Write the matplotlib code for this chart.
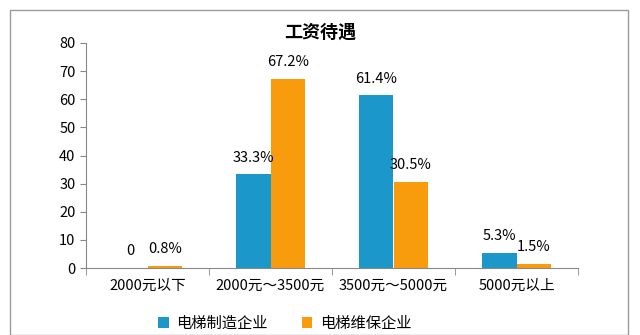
import matplotlib
matplotlib.use("Agg")
import matplotlib.pyplot as plt
from matplotlib.patches import Rectangle
import numpy as np

plt.rcParams['font.family'] = ['Noto Sans CJK SC', 'DejaVu Sans']

categories = ["2000元以下", "2000元～3500元", "3500元～5000元", "5000元以上"]
manufacturing = [0, 33.3, 61.4, 5.3]
maintenance = [0.8, 67.2, 30.5, 1.5]
man_labels = ["0", "33.3%", "61.4%", "5.3%"]
mai_labels = ["0.8%", "67.2%", "30.5%", "1.5%"]
series_names = ["电梯制造企业", "电梯维保企业"]
title = "工资待遇"

blue = "#1b98c9"
orange = "#f89c0e"

fig = plt.figure(figsize=(6.4, 3.35), dpi=100)
fig.patches.append(Rectangle((10/640, 0), 618/640, 1 - 10/335, transform=fig.transFigure,
                             fill=False, edgecolor="#9a9a9a", linewidth=1.0))
ax = fig.add_axes([86/640, 1 - 268/335, 492/640, 225/335])

x = np.arange(len(categories))
w = 0.28
b1 = ax.bar(x - w/2, manufacturing, w, color=blue, label=series_names[0])
b2 = ax.bar(x + w/2, maintenance, w, color=orange, label=series_names[1])

for rect, lab in zip(b1, man_labels):
    ax.annotate(lab, (rect.get_x() + rect.get_width()/2, rect.get_height()),
                xytext=(0, 7), textcoords="offset points", ha="center", va="bottom", fontsize=10.5)
for rect, lab in zip(b2, mai_labels):
    ax.annotate(lab, (rect.get_x() + rect.get_width()/2, rect.get_height()),
                xytext=(0, 7), textcoords="offset points", ha="center", va="bottom", fontsize=10.5)

ax.set_xlim(-0.5, len(categories) - 0.5)
ax.set_ylim(0, 80)
ax.set_yticks(range(0, 81, 10))
ax.set_xticks(x)
ax.set_xticklabels(categories, fontsize=10.5)
ax.set_xticks(np.arange(-0.5, len(categories), 1), minor=True)
ax.tick_params(axis='x', which='major', length=0, pad=8)
ax.tick_params(axis='x', which='minor', length=5, color="#888888", direction="out")
ax.tick_params(axis='y', length=4, color="#888888", labelsize=10.5)
for s in ["top", "right"]:
    ax.spines[s].set_visible(False)
for s in ["left", "bottom"]:
    ax.spines[s].set_color("#888888")

fig.text(0.5, 1 - 32/335, title, ha="center", va="center", fontsize=13, fontweight="bold")
fig.legend(handles=[b1, b2], loc="center", bbox_to_anchor=(0.445, 1 - 323/335), ncol=2,
           frameon=False, fontsize=11, handlelength=0.7, handleheight=0.7, columnspacing=2.2,
           handletextpad=0.5)

fig.savefig("out.png", dpi=100)
